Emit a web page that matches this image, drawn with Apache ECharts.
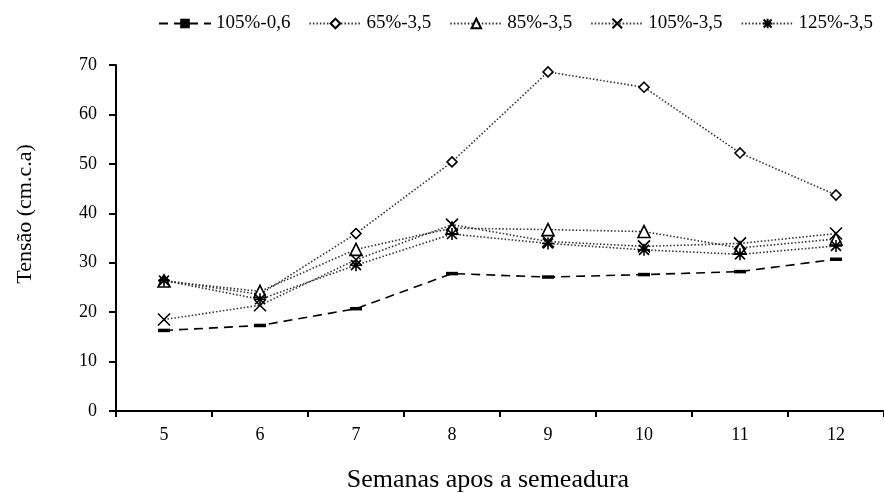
<!DOCTYPE html>
<html><head><meta charset="utf-8">
<script src="https://cdn.jsdelivr.net/npm/echarts@6/dist/echarts.min.js"></script>
<style>html,body{margin:0;padding:0;background:#fff}#c{width:884px;height:493px}</style>
</head><body><div id="c"></div>
<script>
const weeks = ['5','6','7','8','9','10','11','12'];
const seriesNames = ['105%-0,6','65%-3,5','85%-3,5','105%-3,5','125%-3,5'];
const s105_06 = [16.3, 17.3, 20.7, 27.8, 27.1, 27.6, 28.2, 30.7];
const s65_35  = [26.4, 23.6, 35.9, 50.4, 68.6, 65.5, 52.2, 43.7];
const s85_35  = [26.3, 24.2, 32.7, 37.0, 36.7, 36.3, 33.0, 34.8];
const s105_35 = [18.5, 21.4, 30.6, 37.7, 34.3, 33.3, 33.9, 35.9];
const s125_35 = [26.4, 22.6, 29.5, 35.8, 33.9, 32.6, 31.7, 33.4];
const yTicks = [0,10,20,30,40,50,60,70];

const font = '"Liberation Serif", "Times New Roman", serif';
const xPath = 'path://M0,0L10,10M10,0L0,10';
const astPath = 'path://M0,0L10,10M10,0L0,10M5,-1L5,11M-1,5L11,5';
function mk(name, data, symbol, size, dashed) {
  return {
    name, type: 'line', data,
    symbol, symbolSize: size,
    showAllSymbol: true,
    lineStyle: dashed ? {color:'#000', width:1.6, type:[9,6]} : {color:'#333', width:1.6, type:[1.5,2]},
    itemStyle: dashed ? {color:'#000', borderColor:'#000', borderWidth:0}
                      : {color:'#fff', borderColor:'#000', borderWidth:1.6},
    emphasis:{disabled:true}, z: dashed?2:3
  };
}
const chart = echarts.init(document.getElementById('c'), null, {renderer:'canvas'});
chart.setOption({
  animation:false,
  textStyle:{fontFamily:font},
  legend:{
    top:9, left:153, itemGap:18, itemWidth:52, itemHeight:12,
    textStyle:{fontFamily:font, fontSize:19, color:'#000'},
    data: seriesNames
  },
  grid:{left:116, right:0, top:65, bottom:82, outerBoundsMode:'none', containLabel:false},
  xAxis:{
    type:'category', data: weeks, boundaryGap:true,
    axisLine:{lineStyle:{color:'#000', width:2}},
    axisTick:{show:true, length:6, lineStyle:{color:'#000', width:2}},
    axisLabel:{fontFamily:font, fontSize:18, color:'#000', margin:15},
    name:'Semanas apos a semeadura', nameLocation:'middle', nameGap:56,
    nameTextStyle:{fontFamily:font, fontSize:26, color:'#000', padding:[0,0,0,-24]}
  },
  yAxis:{
    type:'value', min:yTicks[0], max:yTicks[yTicks.length-1], interval:10,
    axisLine:{show:true, lineStyle:{color:'#000', width:2}},
    axisTick:{show:true, length:7, lineStyle:{color:'#000', width:2}},
    splitLine:{show:false},
    axisLabel:{fontFamily:font, fontSize:18, color:'#000', margin:19},
    name:'Tensão (cm.c.a)', nameLocation:'middle', nameGap:80, nameRotate:90,
    nameTextStyle:{fontFamily:font, fontSize:22, color:'#000', padding:[0,0,0,48]}
  },
  series:[
    mk(seriesNames[0], s105_06, 'rect', [12,3.5], true),
    mk(seriesNames[1], s65_35, 'diamond', 10, false),
    mk(seriesNames[2], s85_35, 'triangle', 12, false),
    mk(seriesNames[3], s105_35, xPath, 12, false),
    mk(seriesNames[4], s125_35, astPath, 12, false)
  ]
});
</script></body></html>
